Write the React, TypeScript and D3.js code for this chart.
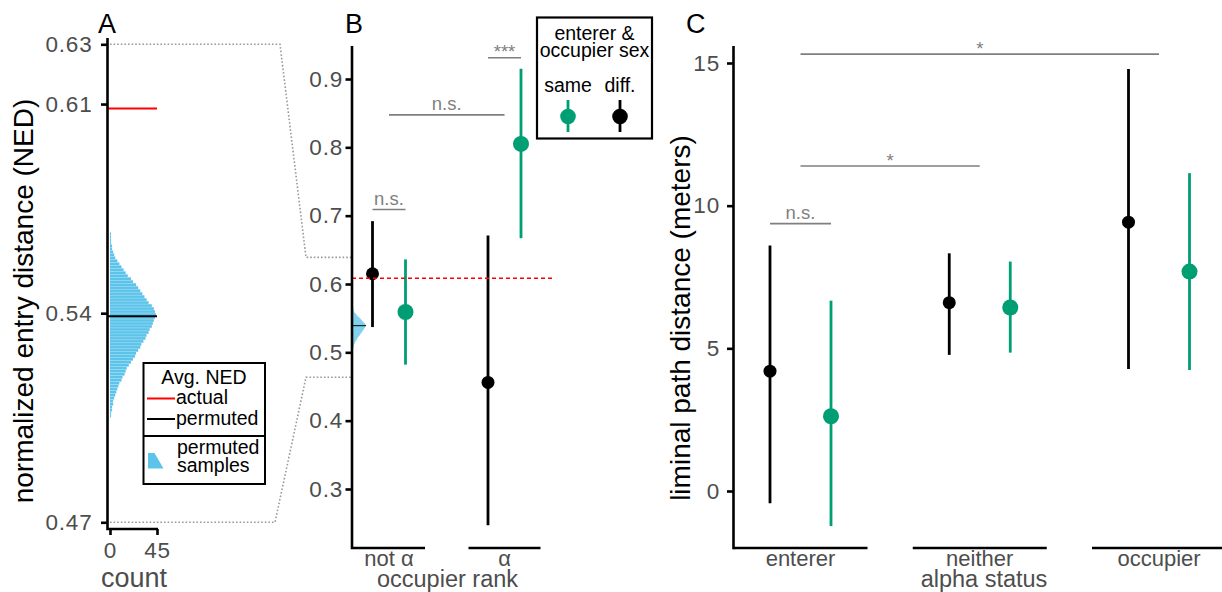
import React, { useEffect, useRef } from "react";
import * as d3 from "d3";

const width = 1222;
const height = 592;

// Panel A: permutation distribution of the average NED (bins of 0.001 starting at 0.505)
const histStart = 0.505;
const histStep = 0.001;
const histCounts = [
  1, 1, 2, 2, 3, 3, 4, 5, 6, 7,
  8, 9, 11, 12, 14, 15, 16, 18, 20, 22,
  24, 25, 27, 29, 30, 32, 34, 35, 37, 38,
  40, 41, 42, 43, 44, 43, 42, 40, 37, 35,
  33, 31, 29, 27, 25, 22, 20, 17, 15, 13,
  11, 9, 7, 5, 4, 3, 2, 2, 1, 1,
  1, 1,
];
const actualNED = 0.6085;
const permutedNED = 0.539;
const nedTicks = [0.47, 0.54, 0.61, 0.63];
const countTicks = [0, 45];
// where the A range lands on panel B's axis
const zoomTop = [0.63, 0.639];
const zoomBottom = [0.47, 0.4635];

// Panel B: NED by occupier rank and sex match
const rankGroups = ["not α", "α"];
const sexKeys = ["diff.", "same"];
const nedDiff = [0.615, 0.456];
const nedDiffLo = [0.537, 0.247];
const nedDiffHi = [0.692, 0.671];
const nedSame = [0.559, 0.805];
const nedSameLo = [0.482, 0.667];
const nedSameHi = [0.636, 0.915];
const nedAxisTicks = [0.3, 0.4, 0.5, 0.6, 0.7, 0.8, 0.9];
const sigB = [
  { a: "not α", sa: "diff.", b: "not α", sb: "same", y: 0.709, label: "n.s." },
  { a: "not α", sa: null, b: "α", sb: null, y: 0.8475, label: "n.s." },
  { a: "α", sa: "diff.", b: "α", sb: "same", y: 0.931, label: "***" },
];

// Panel C: liminal path distance by alpha status and sex match
const alphaGroups = ["enterer", "neither", "occupier"];
const lpdDiff = [4.2, 6.6, 9.42];
const lpdDiffLo = [-0.43, 4.77, 4.28];
const lpdDiffHi = [8.6, 8.33, 14.79];
const lpdSame = [2.62, 6.43, 7.69];
const lpdSameLo = [-1.23, 4.85, 4.24];
const lpdSameHi = [6.67, 8.04, 11.14];
const lpdTicks = [0, 5, 10, 15];
const sigC = [
  { a: "enterer", sa: "diff.", b: "enterer", sb: "same", y: 9.37, label: "n.s." },
  { a: "enterer", sa: null, b: "neither", sb: null, y: 11.39, label: "*" },
  { a: "enterer", sa: null, b: "occupier", sb: null, y: 15.31, label: "*" },
];

const TEAL = "#009E73";
const BLUE = "#5CC3EA";
const GREY_TXT = "#4D4D4D";
const SIG = "#7F7F7F";
const font = "'Liberation Sans', Arial, Helvetica, sans-serif";
const TICK_SIZE = 22.5;
const LEG_SIZE = 19.5;

const App = () => {
  const svgRef = useRef(null);

  useEffect(() => {
    const svg = d3.select(svgRef.current);
    svg.selectAll("*").remove();
    svg.style("font-family", font);

    const styleAxis = (g) => {
      g.attr("font-family", font).attr("font-size", TICK_SIZE);
      g.select(".domain").remove();
      g.selectAll(".tick line").attr("stroke", "#000").attr("stroke-width", 2.6);
      g.selectAll(".tick text").attr("fill", GREY_TXT).attr("letter-spacing", 0.8);
    };

    const label = (x, y, text, size, opts = {}) =>
      svg
        .append("text")
        .attr("x", x)
        .attr("y", y)
        .attr("text-anchor", opts.anchor || "middle")
        .attr("fill", opts.fill || "#000")
        .attr("font-size", size)
        .attr("transform", opts.rotate ? `rotate(-90, ${x}, ${y})` : null)
        .text(text);

    // ---------- Panel A ----------
    const yA = d3.scaleLinear().domain([0.47, 0.63]).range([522.3, 44.3]);
    const xA = d3.scaleLinear().domain([0, 45]).range([110, 157]);
    const axA = 107.5;
    const baseA = 529;

    // scales for B are needed for the connectors
    const yB = d3.scaleLinear().domain([0.3, 0.9]).range([489, 79]);
    const xB = d3.scalePoint().domain(rankGroups).range([389, 504.5]);
    const dodgeB = d3.scalePoint().domain(sexKeys).range([-16.5, 16.5]);
    const axB = 352;
    const baseB = 548;

    // dotted connectors from A to B
    const connector = d3.line();
    [[zoomTop, 280], [zoomBottom, 275]].forEach(([v, bend]) => {
      svg
        .append("path")
        .attr(
          "d",
          connector([
            [xA(0), yA(v[0])],
            [bend, yA(v[0])],
            [306, yB(v[1])],
            [axB, yB(v[1])],
          ])
        )
        .attr("fill", "none")
        .attr("stroke", "#9A9A9A")
        .attr("stroke-width", 1.6)
        .attr("stroke-dasharray", "1.6 2");
    });

    const bins = histCounts.map((c, i) => ({
      lo: histStart + i * histStep,
      hi: histStart + (i + 1) * histStep,
      c,
    }));

    svg
      .append("g")
      .selectAll("rect")
      .data(bins)
      .join("rect")
      .attr("x", xA(0))
      .attr("y", (d) => yA(d.hi))
      .attr("width", (d) => xA(d.c) - xA(0))
      .attr("height", (d) => yA(d.lo) - yA(d.hi) - 0.3)
      .attr("fill", BLUE);

    svg
      .append("line")
      .attr("x1", axA)
      .attr("x2", xA(45))
      .attr("y1", yA(actualNED))
      .attr("y2", yA(actualNED))
      .attr("stroke", "#F00")
      .attr("stroke-width", 2);
    svg
      .append("line")
      .attr("x1", axA)
      .attr("x2", xA(45))
      .attr("y1", yA(permutedNED))
      .attr("y2", yA(permutedNED))
      .attr("stroke", "#000")
      .attr("stroke-width", 2);

    svg
      .append("g")
      .attr("transform", `translate(${axA},0)`)
      .call(d3.axisLeft(yA).tickValues(nedTicks).tickSize(6.5).tickPadding(8.5).tickFormat(d3.format(".2f")))
      .call(styleAxis);
    svg
      .append("g")
      .attr("transform", `translate(0,${baseA})`)
      .call(d3.axisBottom(xA).tickValues(countTicks).tickSize(6).tickPadding(7))
      .call(styleAxis);

    svg
      .append("path")
      .attr("d", `M${axA},38V${baseA}H${xA(45) + 1}`)
      .attr("fill", "none")
      .attr("stroke", "#000")
      .attr("stroke-width", 2.6);

    label(33, 301, "normalized entry distance (NED)", 28, { rotate: true });
    label(134, 587, "count", 27, { fill: GREY_TXT });
    label(98, 33, "A", 27, { anchor: "start" });

    // legend A
    const legA = svg.append("g");
    legA
      .append("rect")
      .attr("x", 143.5)
      .attr("y", 363)
      .attr("width", 121.5)
      .attr("height", 121)
      .attr("fill", "#fff")
      .attr("stroke", "#000")
      .attr("stroke-width", 2);
    legA.append("line").attr("x1", 143.5).attr("x2", 265).attr("y1", 436).attr("y2", 436).attr("stroke", "#000").attr("stroke-width", 2);
    label(204, 383.5, "Avg. NED", LEG_SIZE);
    legA.append("line").attr("x1", 147).attr("x2", 175).attr("y1", 398.5).attr("y2", 398.5).attr("stroke", "#F00").attr("stroke-width", 2);
    legA.append("line").attr("x1", 147).attr("x2", 175).attr("y1", 419).attr("y2", 419).attr("stroke", "#000").attr("stroke-width", 2);
    label(176, 404, "actual", LEG_SIZE, { anchor: "start" });
    label(176, 424.5, "permuted", LEG_SIZE, { anchor: "start" });
    legA.append("path").attr("d", "M148,453H154.5L163.5,468.5H148Z").attr("fill", BLUE);
    label(177, 453.5, "permuted", LEG_SIZE, { anchor: "start" });
    label(177, 471.5, "samples", LEG_SIZE, { anchor: "start" });

    // ---------- Panel B ----------
    const xMini = d3.scaleLinear().domain([0, 45]).range([axB + 1, axB + 14]);
    svg
      .append("g")
      .selectAll("rect")
      .data(bins)
      .join("rect")
      .attr("x", xMini(0))
      .attr("y", (d) => yB(d.hi))
      .attr("width", (d) => xMini(d.c) - xMini(0))
      .attr("height", (d) => yB(d.lo) - yB(d.hi))
      .attr("fill", BLUE);
    svg
      .append("line")
      .attr("x1", xMini(0))
      .attr("x2", xMini(45))
      .attr("y1", yB(permutedNED))
      .attr("y2", yB(permutedNED))
      .attr("stroke", "#000")
      .attr("stroke-width", 1);

    const drawSeries = (g, xs, dodge, yS, key, mid, lo, hi, groups, color, r) => {
      const rows = groups.map((grp, i) => ({ grp, m: mid[i], lo: lo[i], hi: hi[i] }));
      const px = (d) => xs(d.grp) + dodge(key);
      g.append("g")
        .selectAll("line")
        .data(rows)
        .join("line")
        .attr("x1", px)
        .attr("x2", px)
        .attr("y1", (d) => yS(d.lo))
        .attr("y2", (d) => yS(d.hi))
        .attr("stroke", color)
        .attr("stroke-width", 2.8);
      g.append("g")
        .selectAll("circle")
        .data(rows)
        .join("circle")
        .attr("cx", px)
        .attr("cy", (d) => yS(d.m))
        .attr("r", r)
        .attr("fill", color);
    };

    const gB = svg.append("g");
    drawSeries(gB, xB, dodgeB, yB, "diff.", nedDiff, nedDiffLo, nedDiffHi, rankGroups, "#000", 6.5);
    drawSeries(gB, xB, dodgeB, yB, "same", nedSame, nedSameLo, nedSameHi, rankGroups, TEAL, 8);

    svg
      .append("line")
      .attr("x1", axB)
      .attr("x2", 553)
      .attr("y1", yB(actualNED))
      .attr("y2", yB(actualNED))
      .attr("stroke", "#F00")
      .attr("stroke-width", 1.5)
      .attr("stroke-dasharray", "4 3");

    const drawSig = (list, xs, dodge, yS) => {
      list.forEach((s) => {
        const x1 = xs(s.a) + (s.sa ? dodge(s.sa) : 0);
        const x2 = xs(s.b) + (s.sb ? dodge(s.sb) : 0);
        const y = yS(s.y);
        svg.append("line").attr("x1", x1).attr("x2", x2).attr("y1", y).attr("y2", y).attr("stroke", SIG).attr("stroke-width", 1.6);
        const stars = s.label.startsWith("*");
        label((x1 + x2) / 2, stars ? y + 0.5 : y - 4.5, s.label, 18.5, { fill: SIG });
      });
    };
    drawSig(sigB, xB, dodgeB, yB);

    svg
      .append("g")
      .attr("transform", `translate(${axB},0)`)
      .call(d3.axisLeft(yB).tickValues(nedAxisTicks).tickSize(6.5).tickPadding(2.5).tickFormat(d3.format(".1f")))
      .call(styleAxis);
    svg.append("line").attr("x1", axB).attr("x2", axB).attr("y1", 46).attr("y2", baseB + 1.3).attr("stroke", "#000").attr("stroke-width", 2.6);
    svg
      .append("g")
      .selectAll("line")
      .data(rankGroups)
      .join("line")
      .attr("x1", (d) => xB(d) - 36)
      .attr("x2", (d) => xB(d) + 36)
      .attr("y1", baseB)
      .attr("y2", baseB)
      .attr("stroke", "#000")
      .attr("stroke-width", 2.6);
    rankGroups.forEach((d) => label(xB(d), 566, d, 22, { fill: GREY_TXT }));
    label(447.5, 587, "occupier rank", 23.5, { fill: GREY_TXT });
    label(345, 33, "B", 27, { anchor: "start" });

    // legend B
    svg
      .append("rect")
      .attr("x", 537)
      .attr("y", 17.5)
      .attr("width", 115)
      .attr("height", 121)
      .attr("fill", "#fff")
      .attr("stroke", "#000")
      .attr("stroke-width", 2.2);
    label(594.5, 39.5, "enterer &", LEG_SIZE);
    label(594.5, 57, "occupier sex", LEG_SIZE);
    const legKeys = [
      { name: "same", color: TEAL },
      { name: "diff.", color: "#000" },
    ];
    const xLeg = d3.scalePoint().domain(legKeys.map((d) => d.name)).range([568, 620]);
    legKeys.forEach((k) => {
      label(xLeg(k.name), 91.5, k.name, LEG_SIZE);
      svg.append("line").attr("x1", xLeg(k.name)).attr("x2", xLeg(k.name)).attr("y1", 100).attr("y2", 132).attr("stroke", k.color).attr("stroke-width", 2.8);
      svg.append("circle").attr("cx", xLeg(k.name)).attr("cy", 116.5).attr("r", 7.8).attr("fill", k.color);
    });

    // ---------- Panel C ----------
    const yC = d3.scaleLinear().domain([0, 15]).range([491, 63]);
    const xC = d3.scalePoint().domain(alphaGroups).range([800.5, 1159]);
    const dodgeC = d3.scalePoint().domain(sexKeys).range([-30.5, 30.5]);
    const axC = 733.5;
    const baseC = 548;

    const gC = svg.append("g");
    drawSeries(gC, xC, dodgeC, yC, "diff.", lpdDiff, lpdDiffLo, lpdDiffHi, alphaGroups, "#000", 6.5);
    drawSeries(gC, xC, dodgeC, yC, "same", lpdSame, lpdSameLo, lpdSameHi, alphaGroups, TEAL, 8);
    drawSig(sigC, xC, dodgeC, yC);

    svg
      .append("g")
      .attr("transform", `translate(${axC},0)`)
      .call(d3.axisLeft(yC).tickValues(lpdTicks).tickSize(6.5).tickPadding(7))
      .call(styleAxis);
    svg.append("line").attr("x1", axC).attr("x2", axC).attr("y1", 46).attr("y2", baseC + 1.3).attr("stroke", "#000").attr("stroke-width", 2.6);
    svg
      .append("g")
      .selectAll("line")
      .data(alphaGroups)
      .join("line")
      .attr("x1", (d) => xC(d) - 67)
      .attr("x2", (d) => xC(d) + 67)
      .attr("y1", baseC)
      .attr("y2", baseC)
      .attr("stroke", "#000")
      .attr("stroke-width", 2.6);
    alphaGroups.forEach((d) => label(xC(d), 566, d, 22, { fill: GREY_TXT }));
    label(984, 587, "alpha status", 23.5, { fill: GREY_TXT });
    label(690, 318, "liminal path distance (meters)", 28, { rotate: true });
    label(686, 33, "C", 27, { anchor: "start" });
  }, []);

  return (
    <svg
      ref={svgRef}
      width={width}
      height={height}
      viewBox={`0 0 ${width} ${height}`}
      style={{ position: "absolute", left: 0, top: 0, display: "block", background: "#fff" }}
    ></svg>
  );
};

export default App;
